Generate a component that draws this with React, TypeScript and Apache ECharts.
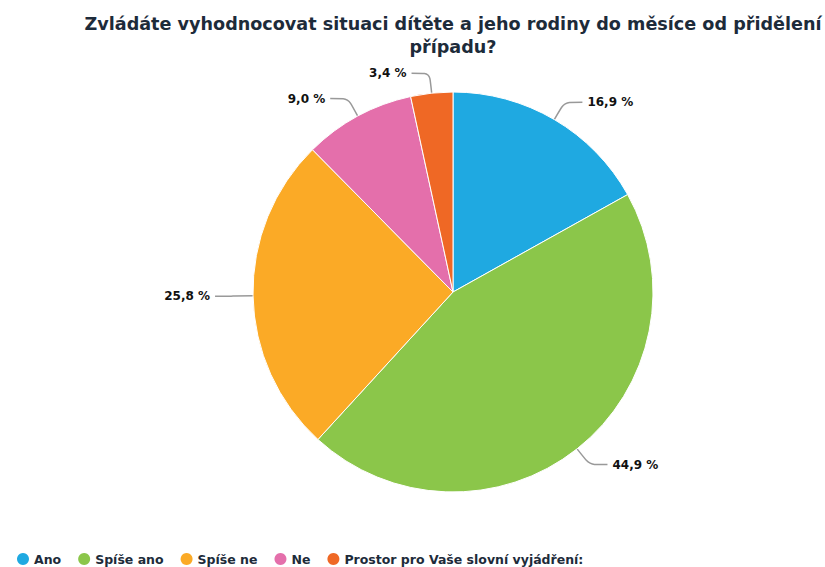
import React, { useEffect, useRef } from "react";
import * as echarts from "echarts";

const titleLines = [
  "Zvládáte vyhodnocovat situaci dítěte a jeho rodiny do měsíce od přidělení",
  "případu?",
];
const categories = ["Ano", "Spíše ano", "Spíše ne", "Ne", "Prostor pro Vaše slovní vyjádření:"];
const values = [16.9, 44.9, 25.8, 9.0, 3.4];
const colors = ["#1fa9e1", "#8bc64a", "#fbaa26", "#e46fab", "#ef6825"];

export default function App() {
  const ref = useRef<HTMLDivElement>(null);
  useEffect(() => {
    if (!ref.current) return;
    const chart = echarts.init(ref.current, null, { renderer: "svg" });
    chart.setOption({
      animation: false,
      backgroundColor: "#ffffff",
      graphic: [
        {
          type: "text",
          x: 453,
          y: 12,
          style: {
            text: titleLines.join("\n"),
            textAlign: "center",
            fontFamily: "DejaVu Sans",
            fontWeight: "bold",
            fontSize: 17.6,
            lineHeight: 23,
            fill: "#1d2b3a",
          },
        },
      ],
      legend: {
        left: 12,
        top: 546,
        icon: "circle",
        itemWidth: 12,
        itemHeight: 12,
        itemGap: 17,
        itemStyle: { borderWidth: 0 },
        data: categories,
        textStyle: {
          fontFamily: "DejaVu Sans",
          fontWeight: "bold",
          fontSize: 12.5,
          lineHeight: 16,
          color: "#1d2b3a",
        },
      },
      series: [
        {
          type: "pie",
          center: [453, 292],
          radius: 200,
          startAngle: 90,
          clockwise: true,
          color: colors,
          itemStyle: { borderColor: "#ffffff", borderWidth: 1 },
          label: {
            show: true,
            formatter: (p: any) => p.value.toFixed(1).replace(".", ",") + " %",
            fontFamily: "DejaVu Sans",
            fontWeight: "bold",
            fontSize: 12,
            color: "#111111",
          },
          labelLine: {
            show: true,
            length: 20,
            length2: 18,
            smooth: 0.2,
            lineStyle: { color: "#999999", width: 1.5 },
          },
          data: categories.map((name, i) => ({ name, value: values[i] })),
        },
      ],
    });
    return () => chart.dispose();
  }, []);
  return (
    <div
      ref={ref}
      style={{ position: "absolute", left: 0, top: 0, width: 825, height: 567 }}
    />
  );
}
